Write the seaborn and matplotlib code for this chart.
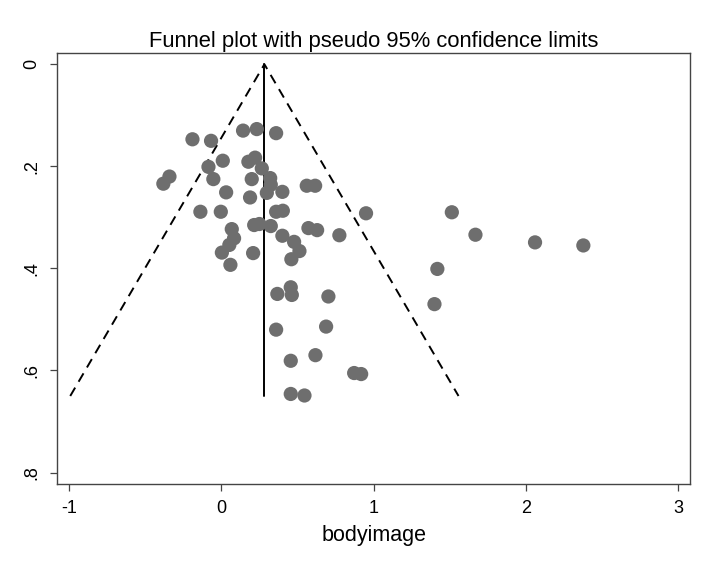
import matplotlib
matplotlib.use("Agg")
import matplotlib.pyplot as plt
import seaborn as sns
import numpy as np
import pandas as pd

# Study effect sizes (bodyimage) and their standard errors
effect = [-0.188, -0.066, 0.144, 0.234, 0.361, 0.011, -0.083, 0.179, 0.223, 0.267,
          -0.339, -0.379, -0.051, 0.201, 0.322, 0.326, 0.300, 0.402, 0.033, 0.190,
          0.562, 0.617, -0.136, -0.002, 0.361, 0.405, 0.070, 0.217, 0.251, 0.326,
          0.573, 0.630, 0.085, 0.054, 0.005, 0.061, 0.210, 0.402, 0.479, 0.514,
          0.461, 0.776, 0.951, 0.369, 0.457, 0.464, 0.704, 0.361, 0.689, 0.457,
          0.619, 0.873, 0.919, 0.457, 0.547, 1.514, 1.669, 2.060, 2.377, 1.419,
          1.400]
se = [0.147, 0.150, 0.130, 0.127, 0.135, 0.189, 0.201, 0.191, 0.183, 0.204,
      0.220, 0.234, 0.225, 0.225, 0.223, 0.236, 0.252, 0.250, 0.251, 0.261,
      0.238, 0.238, 0.289, 0.289, 0.289, 0.287, 0.323, 0.315, 0.313, 0.317,
      0.321, 0.325, 0.341, 0.354, 0.369, 0.393, 0.370, 0.336, 0.348, 0.366,
      0.382, 0.335, 0.292, 0.450, 0.437, 0.452, 0.455, 0.520, 0.514, 0.581,
      0.570, 0.605, 0.607, 0.646, 0.649, 0.290, 0.334, 0.349, 0.355, 0.401,
      0.470]

pooled = 0.284      # fixed-effect pooled estimate
se_max = 0.65       # funnel depth
z95 = 1.96

x_ticks = [-1, 0, 1, 2, 3]
y_ticks = [0, 0.2, 0.4, 0.6, 0.8]
y_ticklabels = ["0", ".2", ".4", ".6", ".8"]

df = pd.DataFrame({"bodyimage": effect, "se": se})

sns.set_theme(style="white")
plt.rcParams["font.family"] = ["Liberation Sans", "DejaVu Sans"]
plt.rcParams["text.color"] = "black"
plt.rcParams["axes.labelcolor"] = "black"
plt.rcParams["xtick.color"] = "black"
plt.rcParams["ytick.color"] = "black"

fig = plt.figure(figsize=(7.05, 5.63), dpi=100)
ax = fig.add_axes([0.0804, 0.1398, 0.899, 0.7669])

# Funnel limits
ax.plot([pooled - z95 * se_max, pooled, pooled + z95 * se_max],
        [se_max, 0, se_max], color="black", lw=1.4,
        linestyle=(0, (5, 3.5)), zorder=1)
ax.plot([pooled, pooled], [0, se_max], color="black", lw=1.4, zorder=1)

sns.scatterplot(data=df, x="bodyimage", y="se", ax=ax, color="#6e6e6e",
                s=105, edgecolor="none", linewidth=0, zorder=3)

ax.set_xlim(-1.079, 3.08)
ax.set_ylim(0.823, -0.023)
ax.set_xticks(x_ticks)
ax.set_xticklabels([str(t) for t in x_ticks], fontsize=13)
ax.set_yticks(y_ticks)
ax.set_yticklabels(y_ticklabels, fontsize=13, rotation=90, va="center")
ax.tick_params(axis="both", which="major", length=5, width=0.9,
               color="#444444", labelcolor="black", direction="out",
               bottom=True, left=True)
ax.tick_params(axis="x", pad=6)
ax.tick_params(axis="y", pad=7)
ax.set_xlabel("bodyimage", fontsize=15.5, labelpad=6, color="black")
ax.set_ylabel("")
ax.set_title("Funnel plot with pseudo 95% confidence limits", fontsize=15.8,
             pad=4, color="black")

for sp in ax.spines.values():
    sp.set_color("#444444")
    sp.set_linewidth(1.0)
    sp.set_visible(True)

fig.savefig("out.png", dpi=100, facecolor="white")
